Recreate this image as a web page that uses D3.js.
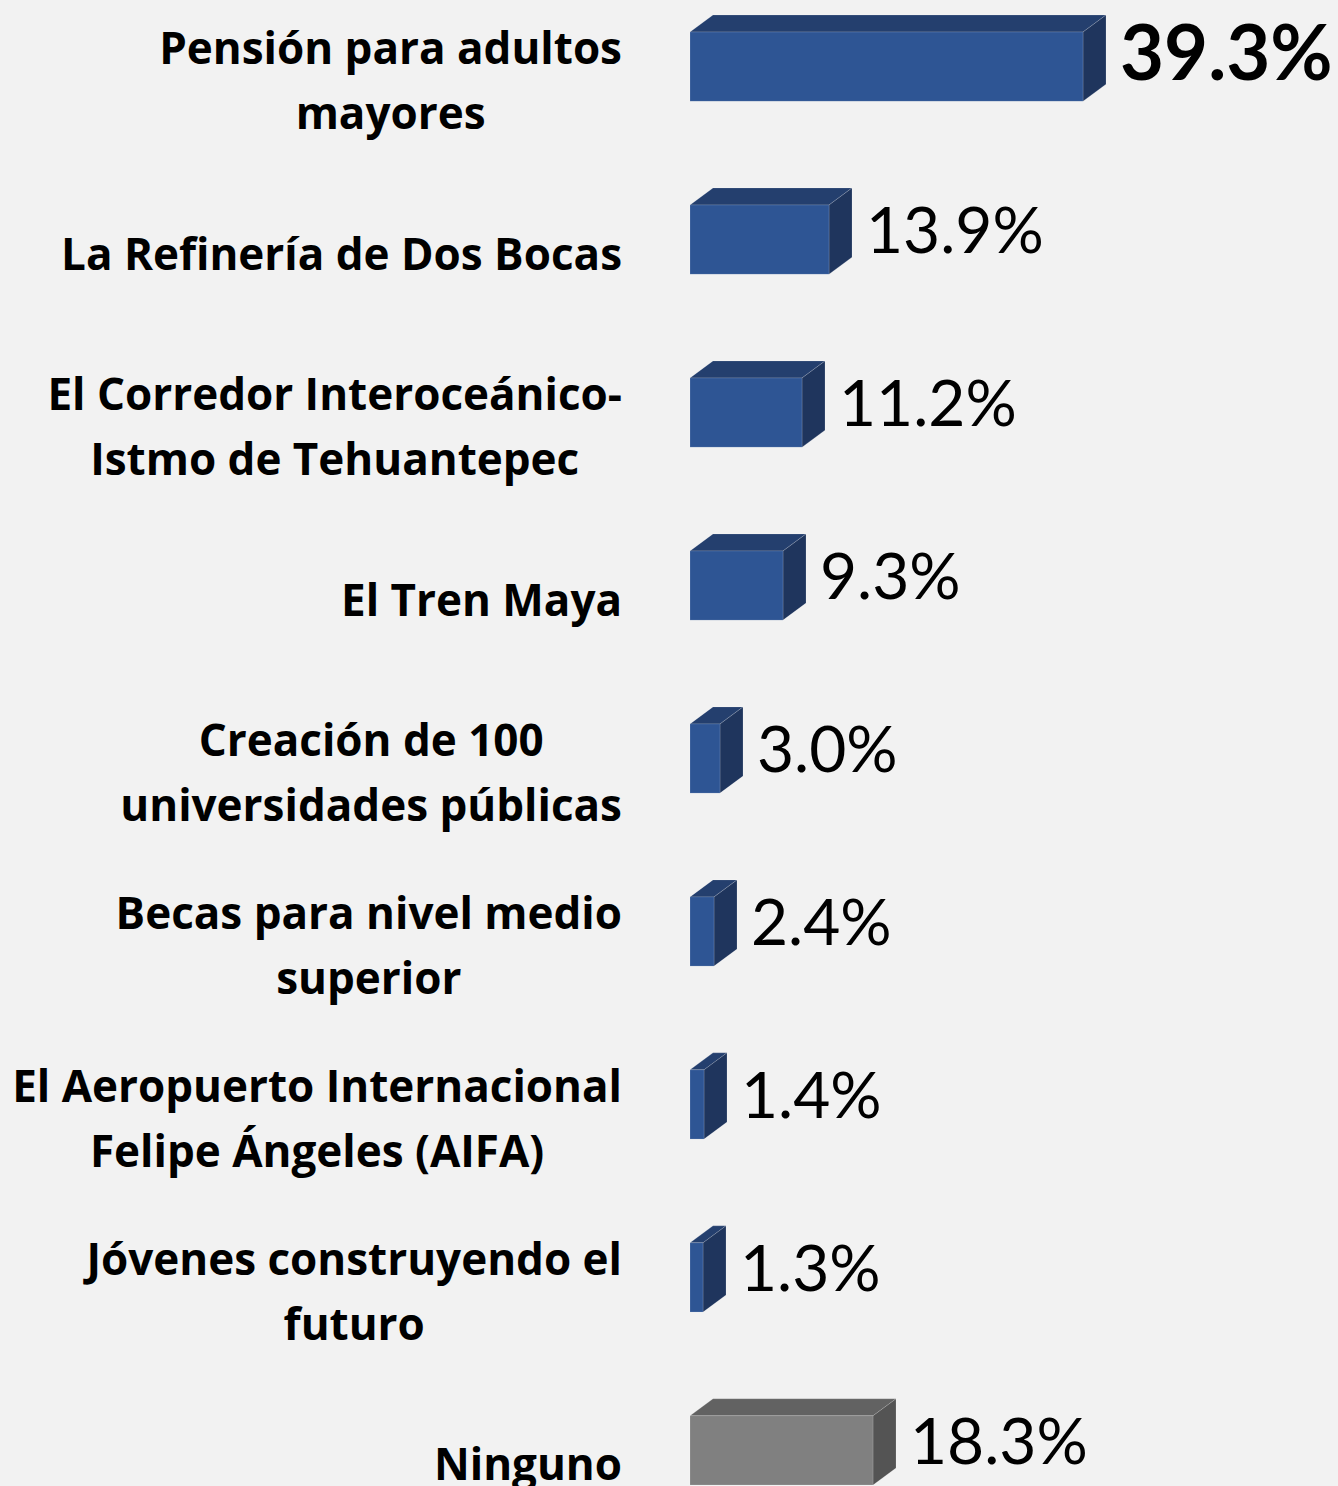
<!DOCTYPE html>
<html>
<head>
<meta charset="utf-8">
<script src="https://cdn.jsdelivr.net/npm/d3@7"></script>
<style>
  html, body { margin: 0; padding: 0; background: #f2f2f2; }
  svg { display: block; }
</style>
</head>
<body>
<script>
// ---- data ----
const categories = [
  "Pensión para adultos\nmayores",
  "La Refinería de Dos Bocas",
  "El Corredor Interoceánico-\nIstmo de Tehuantepec",
  "El Tren Maya",
  "Creación de 100\nuniversidades públicas",
  "Becas para nivel medio\nsuperior",
  "El Aeropuerto Internacional\nFelipe Ángeles (AIFA)",
  "Jóvenes construyendo el\nfuturo",
  "Ninguno"
];
const values = [39.3, 13.9, 11.2, 9.3, 3.0, 2.4, 1.4, 1.3, 18.3];
const valueLabels = ["39.3%", "13.9%", "11.2%", "9.3%", "3.0%", "2.4%", "1.4%", "1.3%", "18.3%"];
const isNone = [false, false, false, false, false, false, false, false, true];

// ---- layout ----
const W = 1338, H = 1486;
const depthX = 23, depthY = 17;
const labelRight = 622;
const labelLeftMin = 10;
const catFont = "'Open Sans', Lato, sans-serif";
const valFont = "Lato, 'Open Sans', sans-serif";

const svg = d3.select("body").append("svg").attr("width", W).attr("height", H);
svg.append("rect").attr("width", W).attr("height", H).attr("fill", "#f2f2f2");

const x = d3.scaleLinear().domain([0, 40]).range([690, 1090]);
const y = d3.scaleBand().domain(categories).range([32, 1485]).paddingInner(0.6).paddingOuter(0);
const bw = y.bandwidth();

const colors = {
  blue: { front: "#2e5594", top: "#243f6e", side: "#1f355d" },
  grey: { front: "#808080", top: "#626262", side: "#545454" }
};

// fit category font so the widest line spans the reference label area
const probe = svg.append("text").attr("font-family", catFont).attr("font-weight", 700).attr("font-size", 40);
let widest = 0;
categories.forEach(c => c.split("\n").forEach(ln => {
  probe.text(ln);
  widest = Math.max(widest, probe.node().getComputedTextLength());
}));
probe.remove();
const catSize = Math.min(44, 40 * (labelRight - labelLeftMin) / widest);

const g = svg.append("g");
categories.forEach((c, i) => {
  const col = isNone[i] ? colors.grey : colors.blue;
  const x0 = x(0), x1 = x(values[i]);
  const yt = y(c), yb = yt + bw;
  const bar = g.append("g");
  bar.append("path")
    .attr("d", `M${x0},${yt} L${x0 + depthX},${yt - depthY} L${x1 + depthX},${yt - depthY} L${x1},${yt} Z`)
    .attr("fill", col.top).attr("stroke", "rgba(255,255,255,0.25)").attr("stroke-width", 0.6);
  bar.append("path")
    .attr("d", `M${x1},${yt} L${x1 + depthX},${yt - depthY} L${x1 + depthX},${yb - depthY} L${x1},${yb} Z`)
    .attr("fill", col.side).attr("stroke", "rgba(255,255,255,0.25)").attr("stroke-width", 0.6);
  bar.append("rect")
    .attr("x", x0).attr("y", yt).attr("width", x1 - x0).attr("height", bw)
    .attr("fill", col.front).attr("stroke", "rgba(255,255,255,0.25)").attr("stroke-width", 0.6);

  const bold = i === 0;
  svg.append("text")
    .attr("x", x1 + depthX + 14)
    .attr("y", yt + 48)
    .attr("font-family", valFont)
    .attr("font-size", bold ? 76 : 64)
    .attr("font-weight", bold ? 700 : 400)
    .attr("fill", "#000")
    .text(valueLabels[i]);

  const lines = c.split("\n");
  const lineH = 65;
  const center = yt + bw / 2 + 15;
  const t = svg.append("text")
    .attr("font-family", catFont)
    .attr("font-size", catSize)
    .attr("font-weight", 700)
    .attr("fill", "#000")
    .attr("text-anchor", "middle");
  const spans = lines.map((ln, k) => t.append("tspan")
    .attr("y", center - (lines.length - 1) * lineH / 2 + k * lineH + 15)
    .text(ln));
  let maxW = 0;
  spans.forEach(s => { maxW = Math.max(maxW, s.node().getComputedTextLength()); });
  spans.forEach(s => s.attr("x", labelRight - maxW / 2));
});
</script>
</body>
</html>
